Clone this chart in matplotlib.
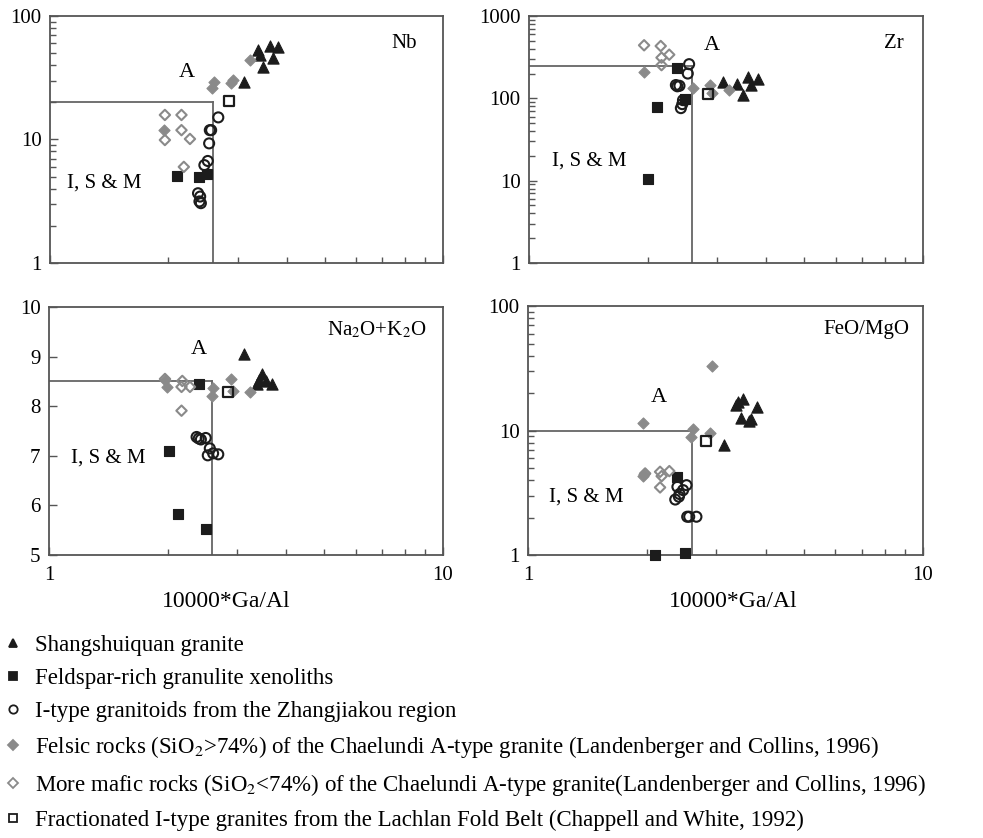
import matplotlib
matplotlib.use("Agg")
import matplotlib.pyplot as plt
from matplotlib.lines import Line2D

plt.rcParams['font.family'] = ['Liberation Serif', 'DejaVu Serif']
plt.rcParams['mathtext.fontset'] = 'stix'

# data: (10000*Ga/Al, value)
# Nb
tri_nb = [(3.39, 52.8), (3.62, 56.9), (3.81, 55.6), (3.42, 48.2), (3.69, 46.1), (3.49, 38.3), (3.12, 29.3)]
sq_nb = [(2.10, 5.1), (2.39, 5.0), (2.51, 5.3)]
circ_nb = [(2.68, 15.1), (2.57, 11.9), (2.55, 11.9), (2.54, 9.3), (2.52, 6.7), (2.47, 6.2),
           (2.38, 3.67), (2.41, 3.45), (2.40, 3.15), (2.42, 3.05)]
fel_nb = [(3.22, 43.9), (2.61, 29.3), (2.58, 25.9), (2.92, 30.2), (2.89, 28.5), (1.95, 11.9)]
maf_nb = [(1.96, 15.8), (2.16, 15.8), (2.16, 11.9), (2.27, 10.1), (1.96, 9.9), (2.19, 6.0)]
frac_nb = [(2.85, 20.6)]
# Zr
tri_zr = [(3.10, 156), (3.37, 151), (3.49, 109), (3.60, 182), (3.67, 144), (3.81, 171)]
sq_zr = [(2.38, 234), (2.11, 79), (2.01, 10.5), (2.49, 98)]
circ_zr = [(2.55, 260), (2.53, 200), (2.36, 145), (2.38, 140), (2.41, 142), (2.46, 95), (2.45, 85), (2.43, 76)]
fel_zr = [(1.96, 209), (2.61, 135), (2.88, 145), (2.92, 115), (3.21, 126)]
maf_zr = [(1.96, 441), (2.16, 432), (2.27, 339), (2.17, 312), (2.17, 253)]
frac_zr = [(2.84, 112)]
# Na2O+K2O
tri_nak = [(3.13, 9.05), (3.47, 8.65), (3.42, 8.52), (3.38, 8.44), (3.55, 8.50), (3.69, 8.44)]
sq_nak = [(2.40, 8.44), (2.02, 7.09), (2.12, 5.82), (2.50, 5.52)]
circ_nak = [(2.37, 7.38), (2.40, 7.35), (2.43, 7.33), (2.50, 7.36), (2.56, 7.15), (2.53, 7.01),
            (2.61, 7.05), (2.69, 7.03)]
fel_nak = [(1.97, 8.52), (1.99, 8.39), (2.61, 8.36), (2.59, 8.21), (2.90, 8.55), (2.93, 8.30), (3.23, 8.29)]
maf_nak = [(1.97, 8.55), (2.18, 8.51), (2.17, 8.39), (2.28, 8.39), (2.17, 7.91)]
frac_nak = [(2.84, 8.28)]
# FeO/MgO
tri_fm = [(3.14, 7.62), (3.41, 17.0), (3.51, 18.0), (3.37, 16.0), (3.47, 12.7), (3.63, 12.0),
          (3.68, 12.3), (3.81, 15.5)]
sq_fm = [(2.39, 4.2), (2.10, 1.0), (2.50, 1.03)]
circ_fm = [(2.39, 3.53), (2.52, 3.64), (2.47, 3.32), (2.42, 3.09), (2.36, 2.79), (2.41, 2.94),
           (2.53, 2.03), (2.56, 2.03), (2.67, 2.03)]
fel_fm = [(2.93, 32.8), (1.96, 11.4), (2.61, 10.2), (2.58, 8.9), (2.89, 9.6), (1.97, 4.5), (1.96, 4.3)]
maf_fm = [(1.98, 4.52), (2.16, 4.66), (2.28, 4.72), (2.18, 4.3), (2.16, 3.49)]
frac_fm = [(2.83, 8.26)]

labels = ["Shangshuiquan granite",
          "Feldspar-rich granulite xenoliths",
          "I-type granitoids from the Zhangjiakou region",
          "Felsic rocks (SiO$_2$>74%) of the Chaelundi A-type granite (Landenberger and Collins, 1996)",
          "More mafic rocks (SiO$_2$<74%) of the Chaelundi A-type granite(Landenberger and Collins, 1996)",
          "Fractionated I-type granites from the Lachlan Fold Belt (Chappell and White, 1992)"]

# marker styles for the six groups
dark = '#1c1c1c'
grey = '#8a8a8a'
styles = [
    dict(marker='^', s=65, facecolor=dark, edgecolor=dark, linewidths=0.8),
    dict(marker='s', s=58, facecolor=dark, edgecolor=dark, linewidths=0.8),
    dict(marker='o', s=52, facecolor='none', edgecolor=dark, linewidths=1.5),
    dict(marker='D', s=32, facecolor=grey, edgecolor=grey, linewidths=0.8),
    dict(marker='D', s=28, facecolor='none', edgecolor=grey, linewidths=1.5),
    dict(marker='s', s=52, facecolor='none', edgecolor=dark, linewidths=1.6),
]

panels = [
    dict(groups=[tri_nb, sq_nb, circ_nb, fel_nb, maf_nb, frac_nb], name="Nb", log=True, ylim=(1, 100), thr=20,
         pos=[0.0509, 0.6862, 0.3998, 0.2947], A=(0.349, 0.773), ISM=(0.137, 0.324), lab=(0.90, 0.89)),
    dict(groups=[tri_zr, sq_zr, circ_zr, fel_zr, maf_zr, frac_zr], name="Zr", log=True, ylim=(1, 1000), thr=250,
         pos=[0.5381, 0.6862, 0.4008, 0.2947], A=(0.464, 0.879), ISM=(0.153, 0.413), lab=(0.925, 0.889)),
    dict(groups=[tri_nak, sq_nak, circ_nak, fel_nak, maf_nak, frac_nak], name="Na$_2$O+K$_2$O", log=False,
         ylim=(5, 10), thr=8.5,
         pos=[0.0498, 0.3377, 0.4008, 0.2959], A=(0.381, 0.829), ISM=(0.150, 0.39), lab=(0.833, 0.907)),
    dict(groups=[tri_fm, sq_fm, circ_fm, fel_fm, maf_fm, frac_fm], name="FeO/MgO", log=True, ylim=(1, 100), thr=10,
         pos=[0.5371, 0.3377, 0.4018, 0.2971], A=(0.332, 0.633), ISM=(0.147, 0.234), lab=(0.857, 0.904)),
]
xlabel_pos = [None, None, 0.45, 0.52]

fig = plt.figure(figsize=(9.83, 8.38), dpi=100)
spine_col = '#555555'

for k, p in enumerate(panels):
    ax = fig.add_axes(p['pos'])
    ax.set_xscale('log')
    if p['log']:
        ax.set_yscale('log')
    ax.set_xlim(1, 10)
    ax.set_ylim(*p['ylim'])

    # discrimination boundary
    ax.plot([1, 2.6], [p['thr'], p['thr']], color='#666666', lw=1.3, zorder=1)
    ax.plot([2.6, 2.6], [p['ylim'][0], p['thr']], color='#666666', lw=1.3, zorder=1)

    for g, st in zip(p['groups'], styles):
        xs = [v[0] for v in g]
        ys = [v[1] for v in g]
        ax.scatter(xs, ys, clip_on=False, zorder=3, **st)

    ax.text(*p['A'], "A", transform=ax.transAxes, fontsize=16, ha='center', va='center')
    ax.text(*p['ISM'], "I, S & M", transform=ax.transAxes, fontsize=15, ha='center', va='center')
    ax.text(*p['lab'], p['name'], transform=ax.transAxes, fontsize=15, ha='center', va='center')

    for sp in ax.spines.values():
        sp.set_color(spine_col)
        sp.set_linewidth(1.3)
    ax.tick_params(which='both', direction='in', top=False, right=False, color=spine_col, labelsize=15)
    ax.tick_params(which='major', length=6, width=1.0)
    ax.tick_params(which='minor', length=4, width=1.0)
    ax.set_xticks([1, 10])
    ax.set_xticklabels(["1", "10"])
    ax.xaxis.set_minor_formatter(plt.NullFormatter())
    ax.yaxis.set_minor_formatter(plt.NullFormatter())
    if p['log']:
        yt = [t for t in [1, 10, 100, 1000] if t <= p['ylim'][1]]
        ax.set_yticks(yt)
        ax.set_yticklabels([str(t) for t in yt])
    else:
        ax.set_yticks([5, 6, 7, 8, 9, 10])
    ax.tick_params(axis='y', pad=6)
    if k < 2:
        ax.tick_params(axis='x', labelbottom=False)
    else:
        ax.tick_params(axis='x', pad=8)
        ax.set_xlabel("10000*Ga/Al", fontsize=17)
        ax.xaxis.set_label_coords(xlabel_pos[k], -0.145)

# legend for the six groups
handles = []
for st in styles:
    handles.append(Line2D([], [], linestyle='none', marker=st['marker'],
                          markersize=6 if st['marker'] != 'D' else 5,
                          markerfacecolor=st['facecolor'], markeredgecolor=st['edgecolor'],
                          markeredgewidth=1.3))
fig.legend(handles, labels, loc='upper left', bbox_to_anchor=(0.005, 1 - 635 / 838), frameon=False,
           fontsize=16.5, labelspacing=0.52, handlelength=0.7, handletextpad=0.6, borderpad=0,
           borderaxespad=0)

fig.savefig("out.png", dpi=100)
